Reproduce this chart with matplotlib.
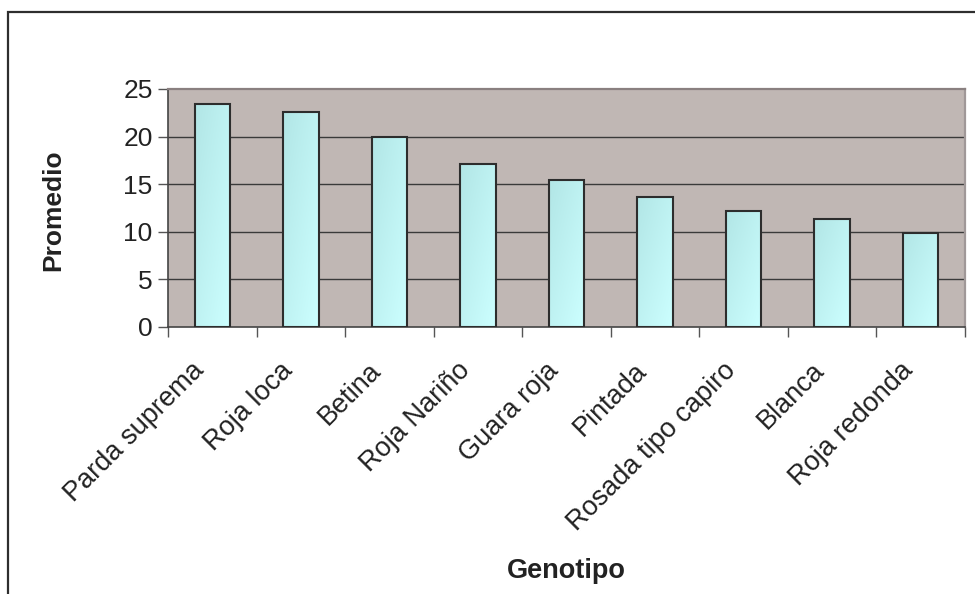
import numpy as np
import matplotlib.pyplot as plt
from matplotlib.patches import Rectangle
from matplotlib.colors import LinearSegmentedColormap
from matplotlib.transforms import ScaledTranslation

plt.rcParams['font.family'] = ['Liberation Sans', 'DejaVu Sans']

genotipos = ["Parda suprema", "Roja loca", "Betina", "Roja Nariño", "Guara roja",
             "Pintada", "Rosada tipo capiro", "Blanca", "Roja redonda"]
promedio = [23.4, 22.55, 20.0, 17.15, 15.45, 13.7, 12.2, 11.35, 9.9]
y_ticks = [0, 5, 10, 15, 20, 25]

W, H = 975, 594
fig = plt.figure(figsize=(W / 100, H / 100), dpi=100)

# outer chart frame (runs off the right and bottom edges)
fig.patches.append(Rectangle((8 / W, -0.1), 1.2, 1 - 12 / H + 0.1, transform=fig.transFigure,
                             fill=False, edgecolor='#2e2e2e', linewidth=1.6))

ax = fig.add_axes([168 / W, 1 - 327 / H, (965 - 168) / W, (327 - 89) / H])
ax.set_facecolor('#c0b7b4')

for y in y_ticks[1:-1]:
    ax.axhline(y, color='#3a3a3a', linewidth=1.0, zorder=1)

# bars filled with a diagonal light-cyan gradient
cmap = LinearSegmentedColormap.from_list('celeste', ['#b2e6e6', '#ccffff'])
grad = np.add.outer(np.linspace(0, 1, 64), np.linspace(0, 1, 64)) / 2

bars = ax.bar(range(len(genotipos)), promedio, width=0.4, facecolor='none',
              edgecolor='#2d2d2d', linewidth=1.5, zorder=3)
for b in bars:
    x0, w, h = b.get_x(), b.get_width(), b.get_height()
    im = ax.imshow(grad, cmap=cmap, extent=(x0, x0 + w, 0, h), origin='upper',
                   aspect='auto', zorder=2, interpolation='bilinear')
    im.set_clip_path(b)
ax.set_aspect('auto')
ax.set_xlim(-0.5, len(genotipos) - 0.5)
ax.set_ylim(0, 25)

for side in ['left', 'bottom']:
    ax.spines[side].set_color('#444444')
    ax.spines[side].set_linewidth(1.2)
ax.spines['top'].set_color('#8a8080')
ax.spines['top'].set_linewidth(1.6)
ax.spines['right'].set_color('#a09898')
ax.spines['right'].set_linewidth(1.6)

ax.set_yticks(y_ticks)
ax.tick_params(axis='y', length=7, width=1.0, color='#555555', labelsize=19,
               labelcolor='#222222', pad=4)

ax.set_xticks(np.arange(len(genotipos)))
ax.set_xticklabels(genotipos, rotation=45, ha='right', rotation_mode='anchor',
                   fontsize=19.5, color='#222222')
ax.tick_params(axis='x', which='major', length=0, pad=27)
ax.set_xticks(np.arange(-0.5, len(genotipos)), minor=True)
ax.tick_params(axis='x', which='minor', length=7, width=1.0, color='#555555')

# nudge the slanted labels left so they end just under each tick gap
shift = ScaledTranslation(-0.21, 0.07, fig.dpi_scale_trans)
for lbl in ax.get_xticklabels():
    lbl.set_transform(lbl.get_transform() + shift)

fig.text(566 / W, 1 - 571 / H, 'Genotipo', ha='center', va='center',
         fontsize=19.5, fontweight='bold', color='#222222')
fig.text(53 / W, 1 - 210 / H, 'Promedio', ha='center', va='center', rotation=90,
         fontsize=19, fontweight='bold', color='#222222')

fig.savefig('out.png', dpi=100)
